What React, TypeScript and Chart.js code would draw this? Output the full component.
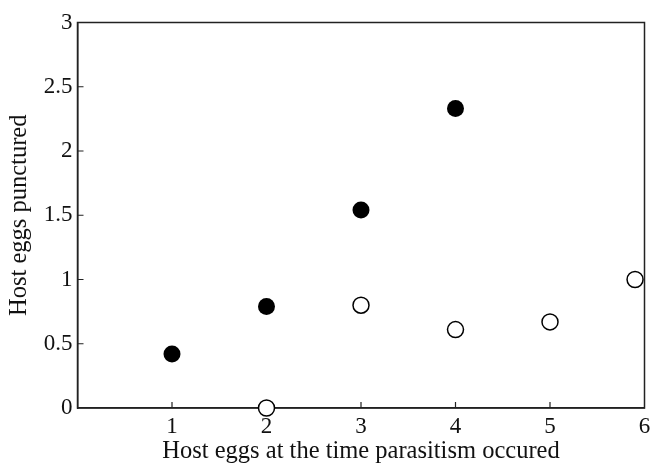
import React, { useEffect, useRef } from "react";
import { Chart, registerables } from "chart.js";

Chart.register(...registerables);

const xTickValues = [1, 2, 3, 4, 5, 6];
const yTickValues = [0, 0.5, 1, 1.5, 2, 2.5, 3];
const filledX = [1, 2, 3, 4];
const filledY = [0.42, 0.79, 1.54, 2.33];
const openX = [2, 3, 4, 5, 5.9];
const openY = [0, 0.8, 0.61, 0.67, 1.0];
const xTitle = "Host eggs at the time parasitism occured";
const yTitle = "Host eggs punctured";

const FONT = "'Liberation Serif', 'DejaVu Serif', serif";

const frame = {
  id: "frame",
  beforeDatasetsDraw(chart: any) {
    const { ctx, chartArea } = chart;
    const xs = chart.scales.x;
    const ys = chart.scales.y;
    ctx.save();
    ctx.strokeStyle = "#222";
    ctx.lineWidth = 1.5;
    ctx.strokeRect(chartArea.left, chartArea.top, chartArea.right - chartArea.left, chartArea.bottom - chartArea.top);
    ctx.lineWidth = 1.2;
    ctx.beginPath();
    xs.ticks.forEach((t: any) => {
      if (t.value > 0 && t.value < 6) {
        const px = xs.getPixelForValue(t.value);
        ctx.moveTo(px, chartArea.bottom);
        ctx.lineTo(px, chartArea.bottom - 6);
      }
    });
    ys.ticks.forEach((t: any) => {
      if (t.value > 0 && t.value < 3) {
        const py = ys.getPixelForValue(t.value);
        ctx.moveTo(chartArea.left, py);
        ctx.lineTo(chartArea.left + 6, py);
      }
    });
    ctx.stroke();
    ctx.restore();
  },
};

export default function App() {
  const ref = useRef<HTMLCanvasElement>(null);
  useEffect(() => {
    if (!ref.current) return;
    const chart = new Chart(ref.current, {
      type: "scatter",
      data: {
        datasets: [
          {
            label: "filled",
            data: filledX.map((x, i) => ({ x, y: filledY[i] })),
            backgroundColor: "#000",
            borderColor: "#000",
            borderWidth: 0,
            pointRadius: 8.5,
            pointHoverRadius: 8.5,
            clip: false,
          } as any,
          {
            label: "open",
            data: openX.map((x, i) => ({ x, y: openY[i] })),
            backgroundColor: "#fff",
            borderColor: "#000",
            borderWidth: 1.5,
            pointRadius: 8,
            pointHoverRadius: 8,
            clip: false,
          } as any,
        ],
      },
      options: {
        responsive: false,
        animation: false,
        events: [],
        layout: { autoPadding: false, padding: { top: 22.5, right: 7.5, left: 0, bottom: 0 } },
        plugins: { legend: { display: false }, tooltip: { enabled: false } },
        scales: {
          x: {
            type: "linear",
            min: 0,
            max: 6,
            afterBuildTicks: (s: any) => {
              s.ticks = xTickValues.map((v) => ({ value: v }));
            },
            afterFit: (s: any) => {
              s.height = 55;
              s.paddingRight = 0;
              s.paddingLeft = 0;
            },
            grid: { display: false, drawTicks: false },
            border: { display: true, color: "#222", width: 1.5 },
            ticks: { color: "#111", font: { family: FONT, size: 23 }, padding: 5, maxRotation: 0 },
            title: {
              display: true,
              text: xTitle,
              color: "#111",
              font: { family: FONT, size: 24.5 },
              padding: { top: 0, bottom: -3 },
            },
          },
          y: {
            type: "linear",
            min: 0,
            max: 3,
            afterBuildTicks: (s: any) => {
              s.ticks = yTickValues.map((v) => ({ value: v }));
            },
            ticks: {
              color: "#111",
              font: { family: FONT, size: 23 },
              padding: 5,
              callback: (v: any) => String(v),
            },
            afterFit: (s: any) => {
              s.width = 77.5;
              s.paddingTop = 0;
              s.paddingBottom = 0;
            },
            grid: { display: false, drawTicks: false },
            border: { display: true, color: "#222", width: 1.5 },
            title: {
              display: true,
              text: yTitle,
              color: "#111",
              font: { family: FONT, size: 24.5 },
              padding: { top: 5, bottom: 0 },
            },
          },
        },
      },
      plugins: [frame],
    });
    return () => chart.destroy();
  }, []);
  return (
    <div style={{ position: "fixed", left: 0, top: 0, width: 652, height: 463, background: "#fff" }}>
      <canvas ref={ref} width={652} height={463} style={{ width: 652, height: 463 }} />
    </div>
  );
}
